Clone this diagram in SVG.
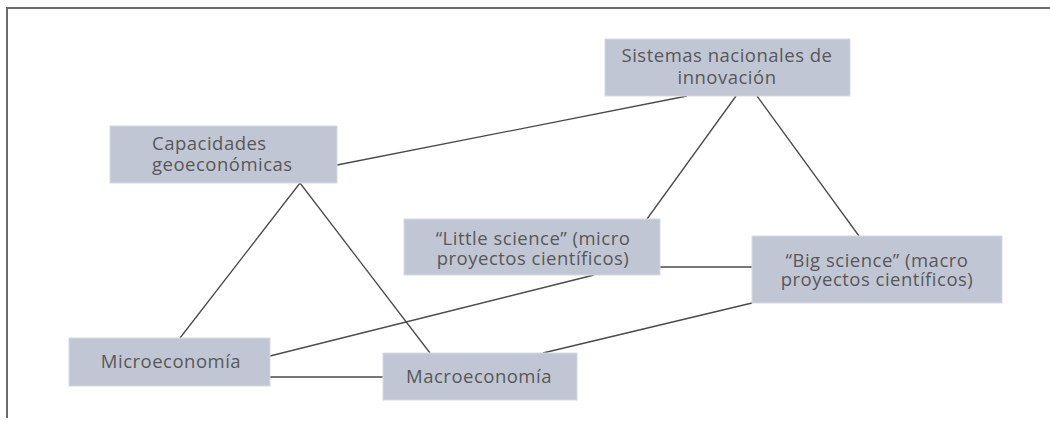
<svg xmlns="http://www.w3.org/2000/svg" width="1050" height="421" viewBox="0 0 1050 421">
<style>
.box{fill:#c1c6d4;stroke:#d6d9e2;stroke-width:1}
.t{font-family:"Open Sans","Noto Sans",sans-serif;font-size:18.5px;letter-spacing:0.5px;fill:#585858}
.c{stroke:#4a4a4a;stroke-width:1.3;fill:none}
.frame{stroke:#6b6b6b;stroke-width:2;fill:none}
</style>
<rect width="1050" height="421" fill="#ffffff"/>
<path class="frame" d="M7,418 V8 H1050"/>
<g id="connectors">
<line class="c" x1="337" y1="165" x2="687" y2="96"/>
<line class="c" x1="736" y1="96" x2="647" y2="219"/>
<line class="c" x1="757" y1="96" x2="859" y2="236"/>
<line class="c" x1="300" y1="183" x2="180" y2="338"/>
<line class="c" x1="300" y1="183" x2="430" y2="353"/>
<line class="c" x1="270" y1="356" x2="594" y2="275"/>
<line class="c" x1="660" y1="267" x2="752" y2="267"/>
<line class="c" x1="752" y1="303" x2="543" y2="353"/>
<line class="c" x1="270" y1="377" x2="383" y2="377"/>
</g>
<g id="sistemas">
<rect class="box" x="605" y="39" width="245" height="57"/>
<text class="t" x="727" y="62" text-anchor="middle">Sistemas nacionales de</text>
<text class="t" x="727" y="84" text-anchor="middle">innovación</text>
</g>
<g id="capacidades">
<rect class="box" x="110" y="126" width="227" height="57"/>
<text class="t" x="152" y="150">Capacidades</text>
<text class="t" x="152" y="171">geoeconómicas</text>
</g>
<g id="little">
<rect class="box" x="404" y="219" width="256" height="56"/>
<text class="t" x="533" y="245" text-anchor="middle">“Little science” (micro</text>
<text class="t" x="533" y="265" text-anchor="middle">proyectos científicos)</text>
</g>
<g id="big">
<rect class="box" x="752" y="236" width="250" height="67"/>
<text class="t" x="877" y="267" text-anchor="middle">“Big science” (macro</text>
<text class="t" x="877" y="286" text-anchor="middle">proyectos científicos)</text>
</g>
<g id="micro">
<rect class="box" x="69" y="338" width="201" height="48"/>
<text class="t" x="171" y="368" text-anchor="middle">Microeconomía</text>
</g>
<g id="macro">
<rect class="box" x="383" y="353" width="194" height="47"/>
<text class="t" x="479" y="383" text-anchor="middle">Macroeconomía</text>
</g>
</svg>
